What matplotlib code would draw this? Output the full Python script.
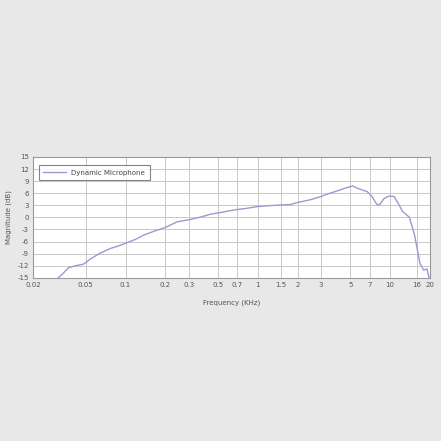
import matplotlib
matplotlib.use("Agg")
import matplotlib.pyplot as plt
from matplotlib.ticker import FixedLocator, NullLocator

# frequency response (kHz, dB)
freq = [0.031, 0.034, 0.037, 0.042, 0.048, 0.055, 0.064, 0.077, 0.09, 0.1,
        0.12, 0.137, 0.165, 0.2, 0.245, 0.31, 0.37, 0.44, 0.52, 0.66,
        0.8, 1.0, 1.2, 1.5, 1.75, 2.0, 2.5, 3.0, 3.5, 4.0,
        4.6, 5.2, 5.7, 6.7, 7.3, 7.9, 8.3, 9.0, 9.8, 10.7,
        11.5, 12.4, 14.0, 15.3, 16.8, 17.9, 19.0, 19.7]
mag = [-15.0, -13.8, -12.5, -12.0, -11.6, -10.2, -8.9, -7.7, -7.0, -6.4,
       -5.4, -4.4, -3.4, -2.5, -1.1, -0.5, 0.1, 0.8, 1.2, 1.85,
       2.2, 2.7, 2.9, 3.1, 3.2, 3.7, 4.4, 5.2, 6.0, 6.6,
       7.3, 7.8, 7.2, 6.4, 5.2, 3.3, 3.1, 4.7, 5.3, 5.2,
       3.5, 1.5, 0.0, -4.4, -11.4, -13.1, -12.8, -15.0]

xticks = [0.02, 0.05, 0.1, 0.2, 0.3, 0.5, 0.7, 1, 1.5, 2, 3, 5, 7, 10, 16, 20]
xlabels = ['0.02', '0.05', '0.1', '0.2', '0.3', '0.5', '0.7', '1', '1.5', '2',
           '3', '5', '7', '10', '16', '20']
yticks = list(range(-15, 16, 3))

plt.rcParams['axes.unicode_minus'] = False

fig = plt.figure(figsize=(4.41, 4.41), dpi=100, facecolor='#e8e8e8')
ax = fig.add_axes([0.075, 0.370, 0.900, 0.274])
ax.set_facecolor('white')

ax.plot(freq, mag, color='#9a9ad2', lw=1.0, label='Dynamic Microphone')

ax.set_xscale('log')
ax.set_xlim(0.02, 20)
ax.set_ylim(-15, 15)
ax.xaxis.set_major_locator(FixedLocator(xticks))
ax.xaxis.set_minor_locator(NullLocator())
ax.set_xticklabels(xlabels)
ax.set_yticks(yticks)

ax.grid(True, color='#c8c8c8', lw=0.7)
for s in ax.spines.values():
    s.set_color('#9a9a9a')
    s.set_linewidth(0.8)
ax.tick_params(length=0, labelsize=5, colors='#555555', pad=3)

ax.set_xlabel('Frequency (KHz)', fontsize=5, color='#555555', labelpad=8)
ax.set_ylabel('Magnitude (dB)', fontsize=5, color='#555555', labelpad=4)

leg = ax.legend(loc='upper left', fontsize=5, frameon=True, fancybox=False,
                handlelength=3.2, borderpad=0.7, bbox_to_anchor=(0.005, 0.965))
leg.get_frame().set_edgecolor('#666666')
leg.get_frame().set_linewidth(0.8)
for t in leg.get_texts():
    t.set_color('#444444')

fig.savefig('out.png', dpi=100, facecolor=fig.get_facecolor())
